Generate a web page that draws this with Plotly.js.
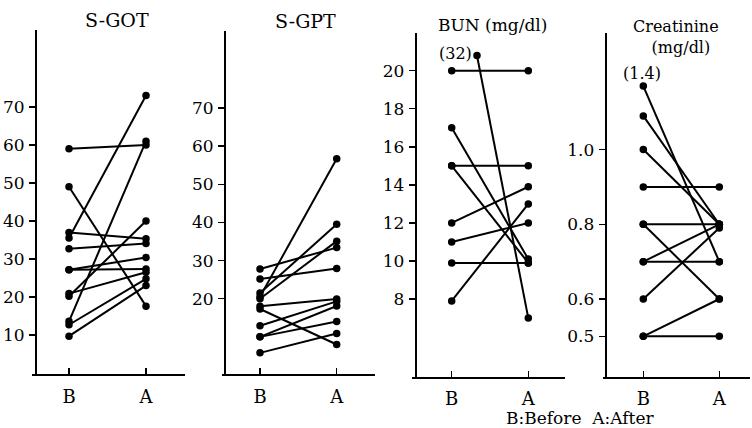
<!DOCTYPE html>
<html>
<head>
<meta charset="utf-8">
<script src="https://cdn.plot.ly/plotly-3.0.1.min.js"></script>
<style>html,body{margin:0;padding:0;background:#fff;}#chart{width:752px;height:428px;}</style>
</head>
<body>
<div id="chart"></div>
<script>
// ---- data ----
const categories = ["B", "A"];
const gotBefore = [59, 49, 37, 35.5, 32.7, 27.2, 27.2, 20.9, 20.2, 13.6, 12.7, 9.7];
const gotAfter  = [60, 17.6, 35.3, 73, 34.1, 30.4, 27.4, 26.5, 40, 61, 24.8, 23];
const gptBefore = [27.8, 25.2, 21.5, 20.5, 20, 18, 17.3, 12.9, 10, 10, 5.8];
const gptAfter  = [33.4, 27.9, 39.5, 56.7, 35.1, 19.9, 8, 19.3, 18.1, 14, 10.9];
const bunBefore = [20, 20.8, 17, 15, 15, 12, 11, 9.9, 7.9];
const bunAfter  = [20, 7, 10.1, 15, 9.9, 13.9, 12, 9.9, 13];
const bunOutlierIndex = 1, bunOutlierLabel = "(32)";
const creBefore = [1.17, 1.09, 1.0, 0.9, 0.8, 0.8, 0.7, 0.7, 0.6, 0.5, 0.5];
const creAfter  = [0.7, 0.8, 0.8, 0.9, 0.8, 0.6, 0.8, 0.7, 0.79, 0.6, 0.5];
const creOutlierIndex = 0, creOutlierLabel = "(1.4)";
const gotTicks = [10, 20, 30, 40, 50, 60, 70];
const gptTicks = [20, 30, 40, 50, 60, 70];
const bunTicks = [8, 10, 12, 14, 16, 18, 20];
const creTicks = [0.5, 0.6, 0.8, 1.0];
const creTickText = ["0.5", "0.6", "0.8", "1.0"];
const titles = ["S-GOT", "S-GPT", "BUN (mg/dl)", "Creatinine<br>  (mg/dl)"];
const legendText = "B:Before  A:After";

// ---- layout helpers ----
const W = 752, H = 428;
const fx = p => p / W;
const fy = p => (H - p) / H;
const FONT = "DejaVu Serif";

const panels = [
  {before: gotBefore, after: gotAfter, ticks: gotTicks, text: gotTicks.map(String),
   xl: 32, xr: 185, yax: 36, bx: 69, ax: 146, top: 30, bot: 374, yr: [-0.26, 90.26]},
  {before: gptBefore, after: gptAfter, ticks: gptTicks, text: gptTicks.map(String),
   xl: 222, xr: 375, yax: 225, bx: 260, ax: 336.7, top: 31, bot: 374, yr: [0.26, 90.2]},
  {before: bunBefore, after: bunAfter, ticks: bunTicks, text: bunTicks.map(String),
   xl: 411.7, xr: 565, yax: 415.7, bx: 451.7, ax: 528.3, top: 33, bot: 376.7, yr: [3.92, 21.98],
   outlier: bunOutlierIndex, outlierX: 0.33},
  {before: creBefore, after: creAfter, ticks: creTicks, text: creTickText,
   xl: 603, xr: 750, yax: 605.7, bx: 643.3, ax: 719.3, top: 33, bot: 376.7, yr: [0.392, 1.312]}
];

const traces = [];
const layout = {
  width: W, height: H,
  margin: {l: 0, r: 0, t: 0, b: 0},
  paper_bgcolor: "#fff", plot_bgcolor: "rgba(0,0,0,0)",
  showlegend: false,
  font: {family: FONT, color: "#000", size: 16},
  annotations: []
};

panels.forEach((p, i) => {
  const n = i + 1;
  const xa = "x" + (n === 1 ? "" : n), ya = "y" + (n === 1 ? "" : n);
  const xkey = "xaxis" + (n === 1 ? "" : n), ykey = "yaxis" + (n === 1 ? "" : n);
  const unit = p.ax - p.bx;
  p.before.forEach((b, k) => {
    const x0 = (p.outlier === k) ? p.outlierX : 0;
    traces.push({
      x: [x0, 1], y: [b, p.after[k]], xaxis: xa, yaxis: ya,
      mode: "lines+markers", hoverinfo: "skip",
      line: {color: "#000", width: 2},
      marker: {color: "#000", size: 7.5}
    });
  });
  layout[xkey] = {
    domain: [fx(p.xl), fx(p.xr)], anchor: ya,
    range: [(p.xl - p.bx) / unit, (p.xr - p.bx) / unit],
    tickvals: [0, 1], ticktext: categories,
    ticks: "inside", ticklen: 6, tickwidth: 1.5, tickcolor: "#000",
    showline: true, linecolor: "#000", linewidth: 2,
    showgrid: false, zeroline: false,
    tickfont: {family: FONT, size: 18, color: "#000"}, ticklabelstandoff: 5
  };
  layout[ykey] = {
    domain: [fy(p.bot), fy(p.top)], anchor: "free", position: fx(p.yax),
    range: p.yr, tickvals: p.ticks, ticktext: p.text,
    ticks: "outside", ticklen: 6, tickwidth: 1.5, tickcolor: "#000",
    showline: true, linecolor: "#000", linewidth: 2,
    showgrid: false, zeroline: false,
    tickfont: {family: FONT, size: 17, color: "#000"}, ticklabelstandoff: 1
  };
});

// titles
const titlePos = [[116.5, 20, 19], [305, 21, 19], [492.7, 25, 17], [676, 37, 16]];
titles.forEach((t, i) => {
  layout.annotations.push({
    text: t, xref: "paper", yref: "paper", x: fx(titlePos[i][0]), y: fy(titlePos[i][1]),
    xanchor: "center", yanchor: "middle", showarrow: false,
    font: {family: FONT, size: titlePos[i][2], color: "#000"}
  });
});
// outlier labels
layout.annotations.push({text: bunOutlierLabel, xref: "x3", yref: "paper", x: 0.05, y: fy(53),
  xanchor: "center", yanchor: "middle", showarrow: false, font: {family: FONT, size: 16, color: "#000"}});
layout.annotations.push({text: creOutlierLabel, xref: "x4", yref: "paper", x: -0.02, y: fy(73),
  xanchor: "center", yanchor: "middle", showarrow: false, font: {family: FONT, size: 16, color: "#000"}});
// legend text
layout.annotations.push({text: legendText, xref: "paper", yref: "paper", x: fx(580), y: fy(418),
  xanchor: "center", yanchor: "middle", showarrow: false, font: {family: FONT, size: 17, color: "#000"}});

Plotly.newPlot("chart", traces, layout, {staticPlot: true, displayModeBar: false});
</script>
</body>
</html>
